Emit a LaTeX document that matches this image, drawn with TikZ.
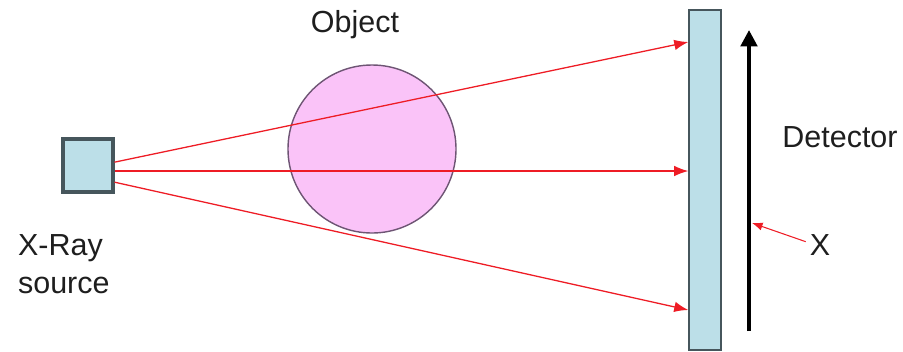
\documentclass[tikz,border=0pt]{standalone}
\usepackage{fontspec}
\setmainfont{Liberation Sans}
\usetikzlibrary{arrows.meta,positioning}
\definecolor{SourceBlue}{HTML}{BCDFE8}
\definecolor{EdgeGrey}{HTML}{46565C}
\definecolor{ObjectPink}{HTML}{FAC3F8}
\definecolor{ObjectEdge}{HTML}{6E5574}
\definecolor{RayRed}{HTML}{EE1C25}
\definecolor{TextGrey}{HTML}{1E1E1E}
\tikzset{
  % Source and detector blocks
  blockbox/.style={rectangle,draw=EdgeGrey,fill=SourceBlue,inner sep=0pt},
  % Object sphere
  objball/.style={circle,draw=ObjectEdge,fill=ObjectPink,line width=1.2pt,inner sep=0pt},
  % Rays
  ray/.style={-{Latex[length=12pt,width=9pt]},RayRed,line width=1.1pt},
  % Axis arrow
  axisarr/.style={-{Triangle[length=14pt,width=14pt]},black,line width=3.2pt},
  % Labels
  lbl/.style={font=\fontsize{26}{32}\selectfont,text=TextGrey}
}
\begin{document}
\begin{tikzpicture}[x=0.03cm,y=-0.03cm]
  \useasboundingbox (0,0) rectangle (903,351);

  \node[blockbox,line width=2.6pt,minimum width=1.5cm,minimum height=1.59cm] (src) at (88,165.5) {};
  \node[objball,minimum size=5.04cm] (obj) at (372,149) {};
  \node[blockbox,line width=1.2pt,minimum width=0.96cm,minimum height=10.2cm] (det) at (705,180) {};

  \node[lbl] (objlbl) at (355,25) {Object};
  \node[lbl] (detlbl) at (840,137) {Detector};
  \node[lbl,align=left,anchor=west] (srclbl) at (14,264) {X-Ray\\source};
  \node[lbl] (xlbl) at (820,245) {X};

  % hit points on the detector
  \coordinate (hitA) at (det.west |- 0,42);
  \coordinate (hitB) at (det.west |- 0,171);
  \coordinate (hitC) at (det.west |- 0,310);

  \draw[ray] ([yshift=0.1cm]src.east) -- (hitA);
  \draw[ray] ([yshift=-0.165cm]src.east) -- (hitB);
  \draw[ray] ([yshift=-0.5cm]src.east) -- (hitC);

  \coordinate (axbot) at (749,331);
  \coordinate (axtop) at (749,30);
  \draw[axisarr] (axbot) -- (axtop);

  \coordinate (xpt) at (752,223);
  \draw[ray,-{Latex[length=9pt,width=7pt]},line width=0.9pt] ([yshift=0.1cm]xlbl.west) -- (xpt);
\end{tikzpicture}
\end{document}
